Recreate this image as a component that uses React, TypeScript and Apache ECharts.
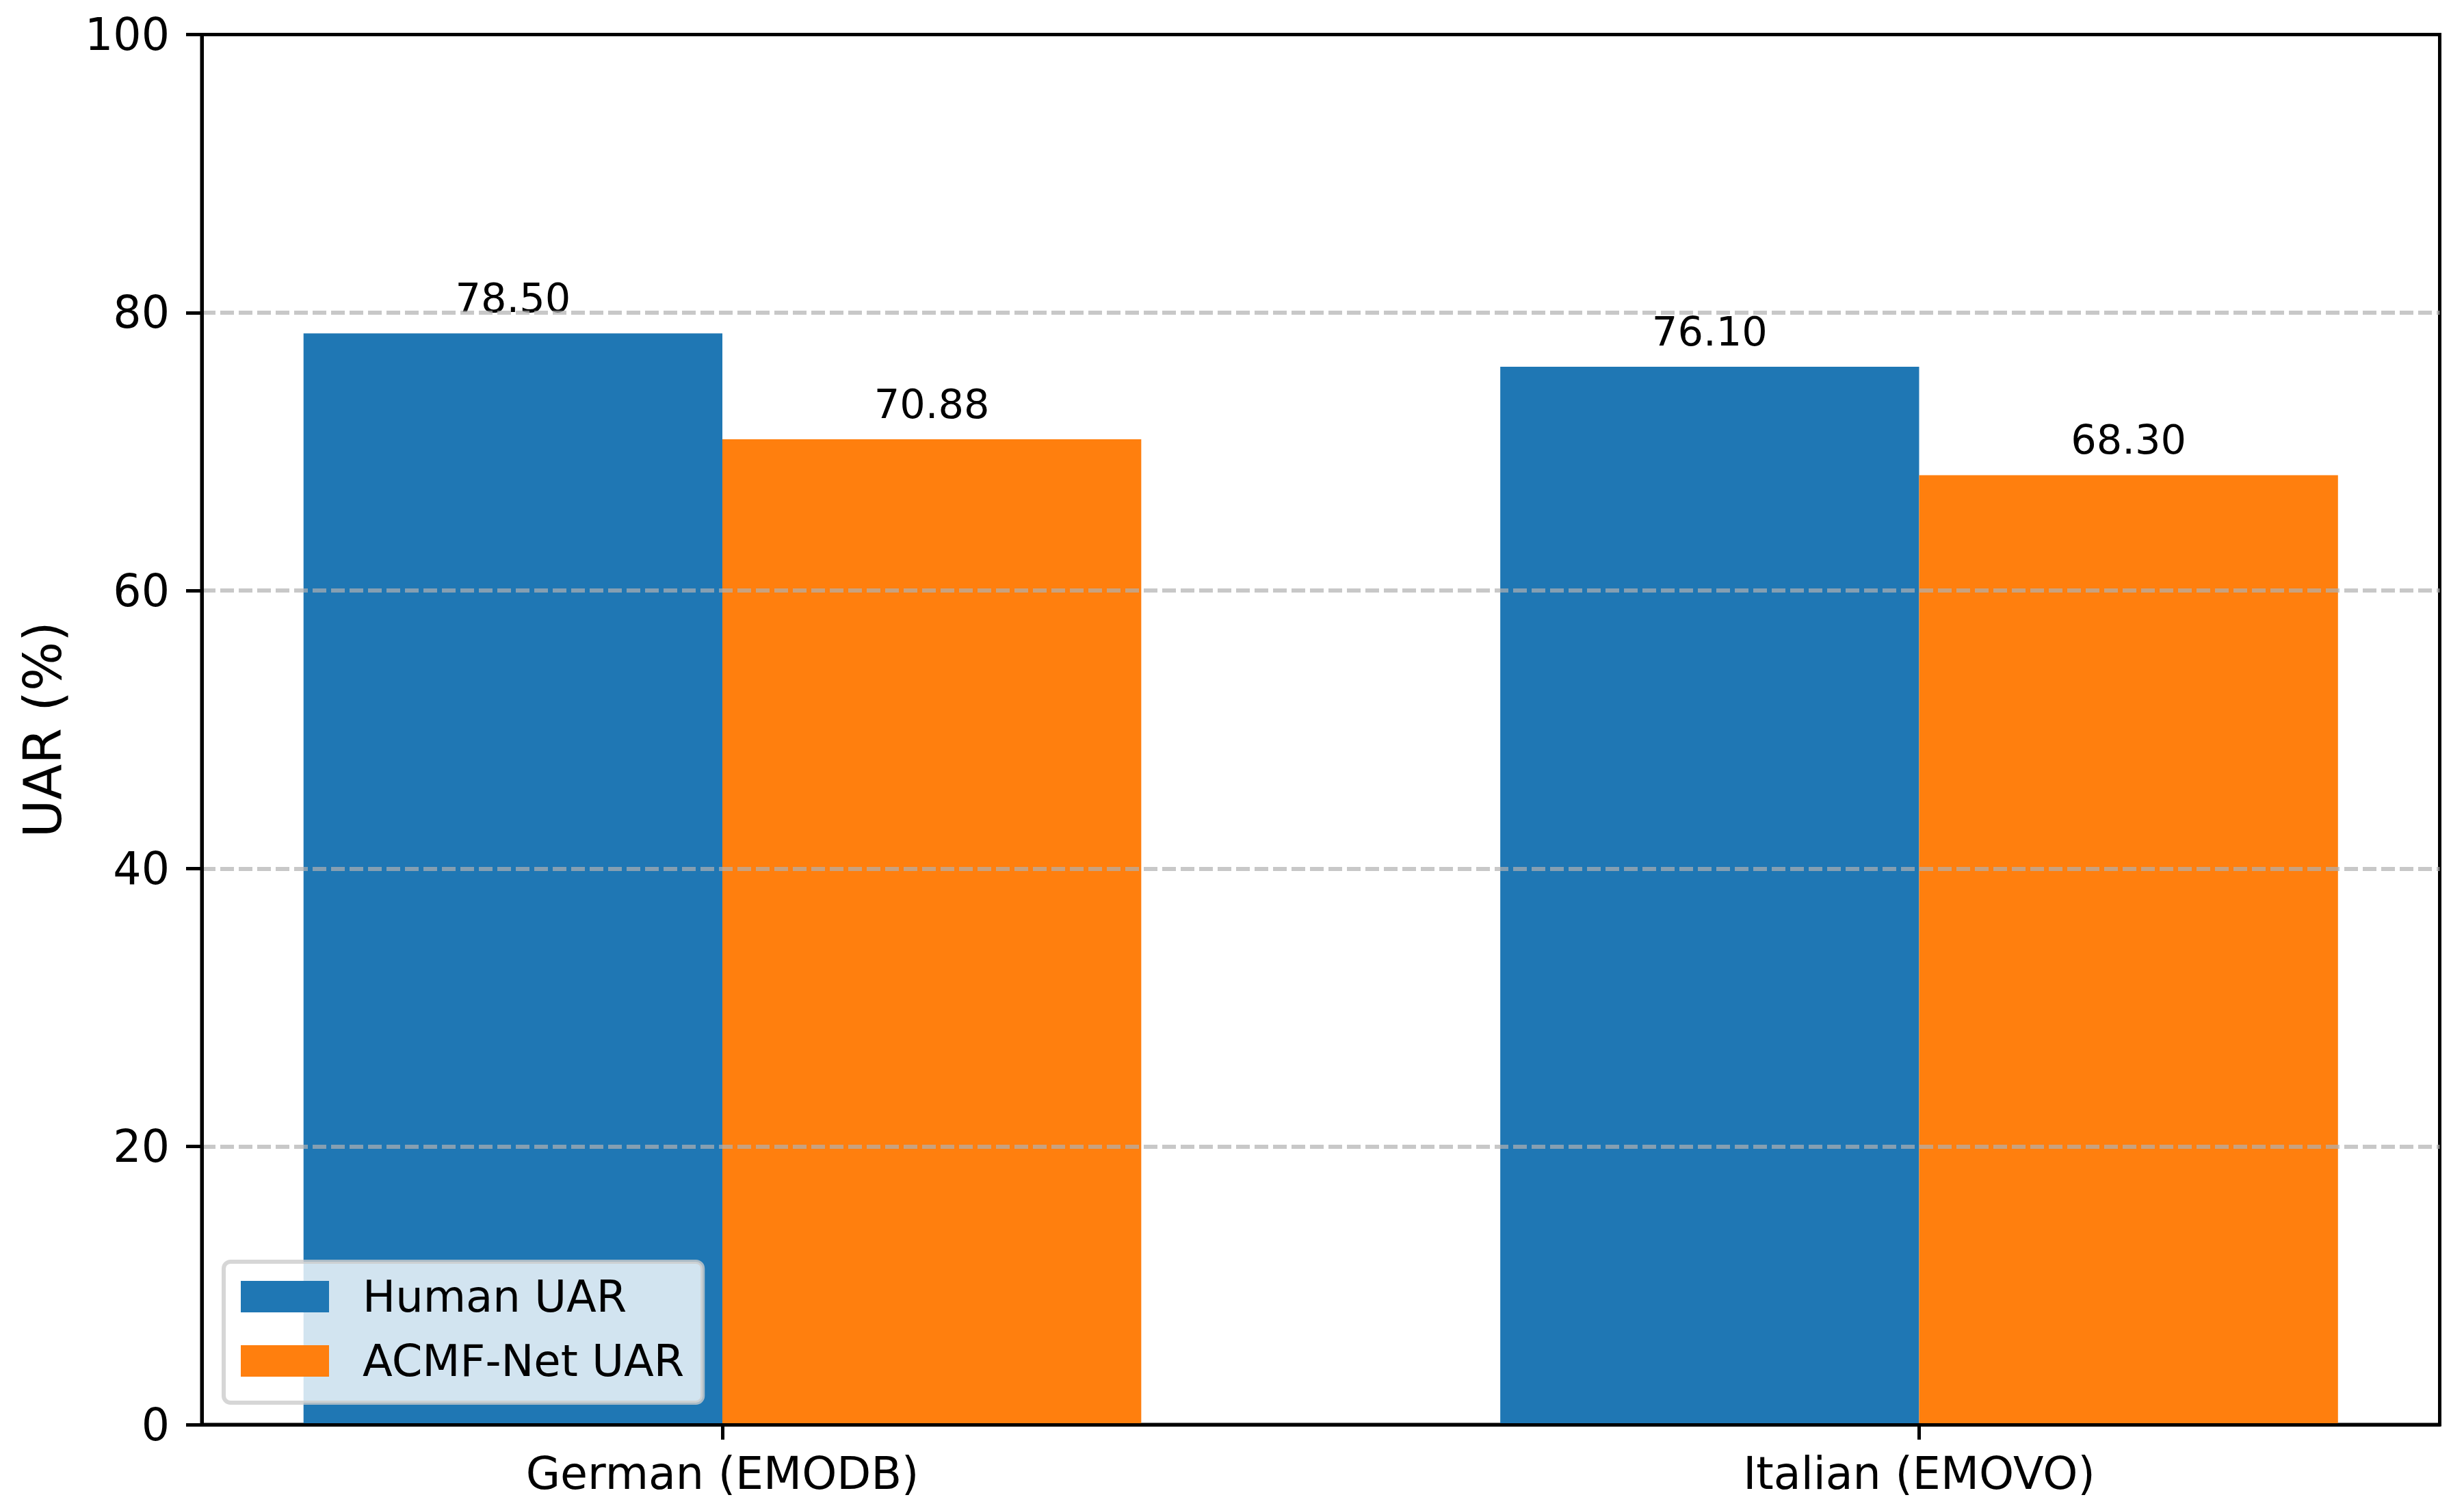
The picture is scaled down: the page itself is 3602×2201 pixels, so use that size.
import React, { useEffect, useRef } from "react";
import * as echarts from "echarts";

const categories = ["German (EMODB)", "Italian (EMOVO)"];
const seriesNames = ["Human UAR", "ACMF-Net UAR"];
const humanUAR = [78.5, 76.1];
const acmfUAR = [70.88, 68.3];
const yTicks = [0, 20, 40, 60, 80, 100];
const colors = ["#1f77b4", "#ff7f0e"];

const BAR_W = 0.35;
const FONT = "DejaVu Sans";

export default function App() {
  const ref = useRef<HTMLDivElement>(null);

  useEffect(() => {
    const chart = echarts.init(ref.current as HTMLDivElement, null, { renderer: "svg" });

    const makeSeries = (name: string, values: number[], idx: number) => ({
      type: "custom",
      name,
      z: 2,
      itemStyle: { color: colors[idx] },
      data: values.map((v, i) => [i, v]),
      encode: { x: 0, y: 1 },
      renderItem: (params: any, api: any) => {
        const c = api.value(0);
        const v = api.value(1);
        const off = (idx === 0 ? -0.5 : 0.5) * BAR_W;
        const p0 = api.coord([c + off - BAR_W / 2, v]);
        const p1 = api.coord([c + off + BAR_W / 2, 0]);
        return {
          type: "rect",
          shape: { x: p0[0], y: p0[1], width: p1[0] - p0[0], height: p1[1] - p0[1] },
          style: { fill: colors[idx] },
          textContent: {
            style: { text: v.toFixed(2), fontSize: 59, fontFamily: FONT, fill: "#000" },
          },
          textConfig: { position: "top", distance: 22 },
        };
      },
    });

    const blackLine = { color: "#000", width: 5 };

    chart.setOption({
      animation: false,
      backgroundColor: "#fff",
      textStyle: { fontFamily: FONT },
      grid: {
        left: 295,
        right: 35.5,
        top: 50.5,
        bottom: 119,
        show: true,
        borderColor: "#000",
        borderWidth: 5,
        backgroundColor: "transparent",
      },
      xAxis: {
        type: "value",
        min: -0.435,
        max: 1.435,
        z: 5,
        axisLine: { show: true, onZero: false, lineStyle: blackLine },
        axisTick: { show: true, customValues: [0, 1], length: 22, lineStyle: blackLine },
        axisLabel: {
          customValues: [0, 1],
          formatter: (v: number) => categories[Math.round(v)],
          fontSize: 65,
          color: "#000",
          margin: 39,
          fontFamily: FONT,
        },
        splitLine: { show: false },
      },
      yAxis: {
        type: "value",
        min: yTicks[0],
        max: yTicks[yTicks.length - 1],
        interval: yTicks[1] - yTicks[0],
        z: 5,
        name: "UAR (%)",
        nameLocation: "middle",
        nameRotate: 90,
        nameGap: 195,
        nameTextStyle: { fontSize: 76, color: "#000", fontFamily: FONT },
        axisLine: { show: true, onZero: false, lineStyle: blackLine },
        axisTick: { show: true, length: 23, lineStyle: blackLine },
        axisLabel: { fontSize: 65, color: "#000", margin: 47, fontFamily: FONT },
        splitLine: {
          show: true,
          showMinLine: false,
          showMaxLine: false,
          lineStyle: { type: [20, 7], color: "rgba(176,176,176,0.7)", width: 6 },
        },
      },
      legend: {
        data: seriesNames,
        orient: "vertical",
        left: 327,
        top: 1844,
        icon: "rect",
        itemWidth: 129,
        itemHeight: 46,
        itemGap: 30,
        padding: [19, 27, 29, 25],
        backgroundColor: "rgba(255,255,255,0.8)",
        borderColor: "rgba(204,204,204,0.8)",
        borderWidth: 6,
        borderRadius: 10,
        z: 10,
        itemStyle: { borderWidth: 0 },
        textStyle: {
          fontSize: 64,
          lineHeight: 64,
          color: "#000",
          fontFamily: FONT,
          padding: [0, 0, 0, 44],
        },
      },
      series: [makeSeries(seriesNames[0], humanUAR, 0), makeSeries(seriesNames[1], acmfUAR, 1)],
    });

    return () => chart.dispose();
  }, []);

  return (
    <div
      ref={ref}
      style={{ position: "fixed", left: 0, top: 0, width: 3602, height: 2201, background: "#fff" }}
    />
  );
}
